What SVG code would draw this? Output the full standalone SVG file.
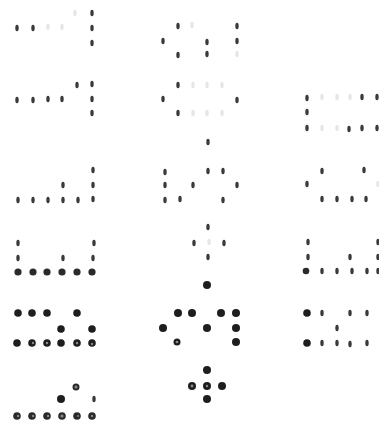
<svg xmlns="http://www.w3.org/2000/svg" width="379" height="423" viewBox="0 0 379 423">
<style>
.s{fill:#3a3a3a}
.f{fill:#e6e6e6}
.m{fill:#2a2a2a}
.d{fill:#1e1e1e}
.hi{fill:#8a8a8a}
</style>
<defs>
<ellipse id="sl" rx="1.7" ry="3.2" />
</defs>
<rect width="379" height="423" fill="#fff"/>
<g id="g1">
<use href="#sl" class="s" x="17" y="28"/><use href="#sl" class="s" x="33" y="28"/>
<use href="#sl" class="f" x="48" y="27"/><use href="#sl" class="f" x="62" y="27"/><use href="#sl" class="f" x="75" y="13"/>
<use href="#sl" class="s" x="92" y="13"/><use href="#sl" class="s" x="92" y="28"/><use href="#sl" class="s" x="92" y="43"/>
</g>
<g id="g2">
<use href="#sl" class="s" x="178" y="26"/><use href="#sl" class="f" x="192" y="25"/><use href="#sl" class="s" x="237" y="26"/>
<use href="#sl" class="s" x="163" y="41"/><use href="#sl" class="s" x="207" y="42"/><use href="#sl" class="s" x="237" y="41"/>
<use href="#sl" class="s" x="178" y="55"/><use href="#sl" class="s" x="207" y="54"/><use href="#sl" class="f" x="237" y="54"/>
</g>
<g id="g3">
<use href="#sl" class="s" x="17" y="100"/><use href="#sl" class="s" x="33" y="100"/><use href="#sl" class="s" x="48" y="99"/><use href="#sl" class="s" x="62" y="99"/>
<use href="#sl" class="s" x="77" y="85"/><use href="#sl" class="s" x="92" y="84"/><use href="#sl" class="s" x="92" y="99"/><use href="#sl" class="s" x="92" y="113"/>
</g>
<g id="g4">
<use href="#sl" class="s" x="178" y="85"/><use href="#sl" class="s" x="163" y="99"/><use href="#sl" class="s" x="237" y="100"/><use href="#sl" class="s" x="178" y="113"/>
<use href="#sl" class="f" x="193" y="85"/><use href="#sl" class="f" x="207" y="85"/><use href="#sl" class="f" x="222" y="85"/>
<use href="#sl" class="f" x="193" y="113"/><use href="#sl" class="f" x="207" y="113"/><use href="#sl" class="f" x="222" y="113"/>
<use href="#sl" class="s" x="208" y="142"/>
</g>
<g id="g5">
<use href="#sl" class="s" x="307" y="98"/><use href="#sl" class="f" x="322" y="97"/><use href="#sl" class="f" x="337" y="97"/><use href="#sl" class="f" x="350" y="97"/><use href="#sl" class="s" x="362" y="97"/><use href="#sl" class="s" x="377" y="97"/>
<use href="#sl" class="s" x="307" y="112"/>
<use href="#sl" class="s" x="307" y="128"/><use href="#sl" class="f" x="322" y="128"/><use href="#sl" class="f" x="337" y="128"/><use href="#sl" class="s" x="349" y="129"/><use href="#sl" class="s" x="362" y="128"/><use href="#sl" class="s" x="377" y="128"/>
</g>
<g id="g6">
<use href="#sl" class="s" x="18" y="200"/><use href="#sl" class="s" x="33" y="200"/><use href="#sl" class="s" x="48" y="200"/><use href="#sl" class="s" x="63" y="200"/><use href="#sl" class="s" x="78" y="200"/><use href="#sl" class="s" x="93" y="199"/>
<use href="#sl" class="s" x="63" y="185"/><use href="#sl" class="s" x="93" y="170"/><use href="#sl" class="s" x="93" y="185"/>
</g>
<g id="g7">
<use href="#sl" class="s" x="165" y="172"/><use href="#sl" class="s" x="208" y="171"/><use href="#sl" class="s" x="223" y="171"/>
<use href="#sl" class="s" x="165" y="185"/><use href="#sl" class="s" x="193" y="185"/><use href="#sl" class="s" x="237" y="185"/>
<use href="#sl" class="s" x="165" y="200"/><use href="#sl" class="s" x="180" y="199"/><use href="#sl" class="s" x="223" y="200"/>
</g>
<g id="g8">
<use href="#sl" class="s" x="322" y="171"/><use href="#sl" class="s" x="364" y="170"/>
<use href="#sl" class="s" x="307" y="184"/><use href="#sl" class="f" x="378" y="184"/>
<use href="#sl" class="s" x="322" y="199"/><use href="#sl" class="s" x="337" y="199"/><use href="#sl" class="s" x="352" y="199"/><use href="#sl" class="s" x="366" y="199"/>
</g>
<g id="g9">
<use href="#sl" class="s" x="18" y="243"/><use href="#sl" class="s" x="94" y="243"/>
<use href="#sl" class="s" x="18" y="258"/><use href="#sl" class="s" x="63" y="258"/><use href="#sl" class="s" x="93" y="258"/>
<circle class="m" cx="18" cy="272" r="3.6"/><circle class="m" cx="33" cy="272" r="3.6"/><circle class="m" cx="47" cy="272" r="3.6"/>
<circle class="m" cx="62" cy="272" r="3.6"/><circle class="m" cx="77" cy="272" r="3.6"/><circle class="m" cx="92" cy="272" r="3.6"/>
</g>
<g id="g10">
<use href="#sl" class="s" x="208" y="227"/><use href="#sl" class="s" x="194" y="243"/><use href="#sl" class="f" x="209" y="242"/><use href="#sl" class="s" x="224" y="243"/><use href="#sl" class="s" x="208" y="257"/>
</g>
<g id="g11">
<use href="#sl" class="s" x="308" y="242"/><use href="#sl" class="s" x="378" y="242"/>
<use href="#sl" class="s" x="308" y="257"/><use href="#sl" class="s" x="350" y="257"/><use href="#sl" class="s" x="378" y="257"/>
<circle class="m" cx="306" cy="271" r="3.3"/><use href="#sl" class="s" x="322" y="271"/><use href="#sl" class="s" x="337" y="271"/><use href="#sl" class="s" x="352" y="271"/><use href="#sl" class="s" x="367" y="271"/><use href="#sl" class="s" x="378" y="271"/>
</g>
<g id="g12">
<circle class="d" cx="18" cy="313" r="3.8"/><circle class="d" cx="32" cy="313" r="3.8"/><circle class="d" cx="47" cy="313" r="3.8"/><circle class="d" cx="77" cy="313" r="3.8"/>
<circle class="d" cx="61" cy="329" r="3.8"/><circle class="d" cx="92" cy="329" r="3.8"/>
<circle class="d" cx="17" cy="343" r="3.8"/><circle class="d" cx="32" cy="343" r="3.8"/><circle class="d" cx="47" cy="343" r="3.8"/><circle class="d" cx="61" cy="343" r="3.8"/><circle class="d" cx="77" cy="343" r="3.8"/><circle class="d" cx="92" cy="343" r="3.8"/>
<circle class="hi" cx="33" cy="343" r="1.2"/><circle class="hi" cx="47" cy="343" r="1.2"/><circle class="hi" cx="77" cy="343" r="1.2"/><circle class="hi" cx="92" cy="344" r="1.2"/>
</g>
<g id="g13">
<circle class="d" cx="207" cy="285" r="4"/>
<circle class="d" cx="178" cy="313" r="4"/><circle class="d" cx="192" cy="313" r="4"/><circle class="d" cx="221" cy="313" r="4"/><circle class="d" cx="236" cy="313" r="4"/>
<circle class="d" cx="163" cy="328" r="4"/><circle class="d" cx="207" cy="328" r="4"/><circle class="d" cx="236" cy="328" r="4"/>
<circle class="d" cx="177" cy="342" r="3.5"/><circle class="hi" cx="177" cy="342" r="1.3"/><circle class="d" cx="236" cy="342" r="4"/>
</g>
<g id="g14">
<circle class="d" cx="307" cy="313" r="3.8"/><use href="#sl" class="s" x="322" y="313"/><use href="#sl" class="s" x="350" y="313"/><use href="#sl" class="s" x="367" y="313"/>
<use href="#sl" class="s" x="337" y="328"/>
<circle class="d" cx="307" cy="343" r="3.8"/><use href="#sl" class="s" x="322" y="343"/><use href="#sl" class="s" x="337" y="343"/><use href="#sl" class="s" x="350" y="344"/><use href="#sl" class="s" x="367" y="343"/>
</g>
<g id="g15">
<circle class="m" cx="76" cy="387" r="3.5"/><circle class="hi" cx="76" cy="387" r="1.5"/>
<circle class="d" cx="61" cy="399" r="4"/><use href="#sl" class="s" x="94" y="399"/>
<circle class="m" cx="17" cy="416" r="3.8"/><circle class="m" cx="32" cy="416" r="3.8"/><circle class="m" cx="47" cy="416" r="3.8"/><circle class="m" cx="62" cy="416" r="3.8"/><circle class="m" cx="77" cy="416" r="3.8"/><circle class="m" cx="92" cy="416" r="3.8"/>
<circle class="hi" cx="18" cy="416" r="1.2"/><circle class="hi" cx="33" cy="416" r="1.2"/><circle class="hi" cx="48" cy="416" r="1.2"/><circle class="hi" cx="62" cy="416" r="1.6"/><circle class="hi" cx="78" cy="416" r="1"/><circle class="hi" cx="92" cy="416" r="1.2"/>
</g>
<g id="g16">
<circle class="d" cx="207" cy="370" r="4"/>
<circle class="d" cx="192" cy="386" r="4"/><circle class="hi" cx="192" cy="386" r="1.4"/>
<circle class="d" cx="207" cy="386" r="4"/><circle class="hi" cx="207" cy="386" r="1.2"/>
<circle class="d" cx="222" cy="386" r="4"/>
<circle class="d" cx="207" cy="399" r="4"/>
</g>
<g id="connectors"/>
</svg>
